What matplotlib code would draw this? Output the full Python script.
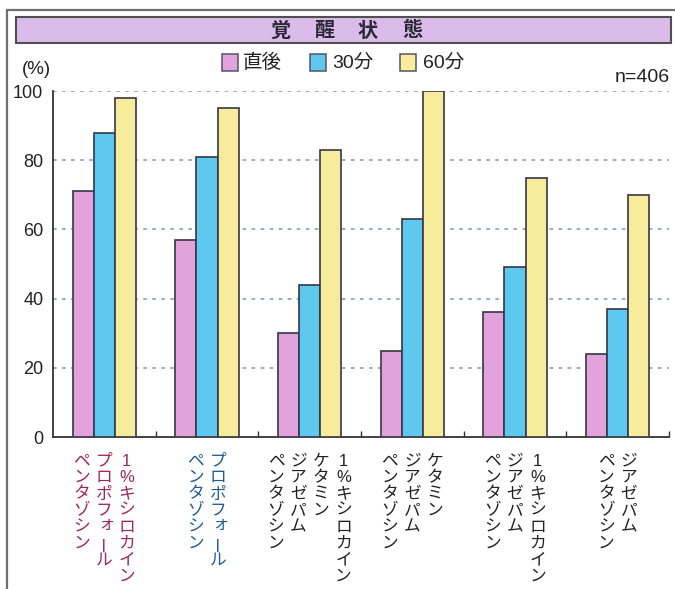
import numpy as np
import matplotlib
matplotlib.use("Agg")
import matplotlib.pyplot as plt
from matplotlib.patches import Rectangle

plt.rcParams['font.family'] = ['Liberation Sans', 'Noto Sans CJK JP']

# awakening rate (%) per anesthetic combination
series_names = ['直後', '30分', '60分']
immediate = [71, 57, 30, 25, 36, 24]
after_30 = [88, 81, 44, 63, 49, 37]
after_60 = [98, 95, 83, 100, 75, 70]
y_ticks = [0, 20, 40, 60, 80, 100]

# each group's label columns, listed right to left (vertical writing)
group_labels = [
    ['1%キシロカイン', 'プロポフォール', 'ペンタゾシン'],
    ['プロポフォール', 'ペンタゾシン'],
    ['1%キシロカイン', 'ケタミン', 'ジアゼパム', 'ペンタゾシン'],
    ['ケタミン', 'ジアゼパム', 'ペンタゾシン'],
    ['1%キシロカイン', 'ジアゼパム', 'ペンタゾシン'],
    ['ジアゼパム', 'ペンタゾシン'],
]
label_colors = ['#a3245e', '#1e5d97', '#222222', '#222222', '#222222', '#222222']
n_label = 'n=406'
title_chars = ['覚', '醒', '状', '態']

bar_colors = ['#e2a3dc', '#5ec8ef', '#f6ec9c']
edge = '#363646'

W, H = 675, 589
fig = plt.figure(figsize=(W / 100, H / 100), dpi=100)


def fx(x):
    return x / W


def fy(y):
    return 1 - y / H


# outer frame and title bar
fig.add_artist(Rectangle((fx(7), fy(592)), fx(672), 582 / H, transform=fig.transFigure,
                         facecolor='none', edgecolor='#707070', lw=1.6))
fig.add_artist(Rectangle((fx(16), fy(43)), fx(655), 26 / H, transform=fig.transFigure,
                         facecolor='#dbbbea', edgecolor='#505050', lw=1.5))
for i, ch in enumerate(title_chars):
    fig.text(fx(346 + (i - 1.5) * 44), fy(30), ch, ha='center', va='center',
             fontsize=14.5, fontweight='bold', color='#2a2a35', family='Noto Sans CJK JP')

ax = fig.add_axes([fx(53), fy(437), fx(616), 346 / H])
x = np.arange(len(immediate)) + 0.5
bw = 0.205
for k, vals in enumerate([immediate, after_30, after_60]):
    ax.bar(x + (k - 1) * bw, vals, bw, color=bar_colors[k], edgecolor=edge, lw=1.2, zorder=3)

ax.set_xlim(0, len(immediate))
ax.set_ylim(0, 100)
ax.set_yticks(y_ticks)
ax.set_yticklabels([str(v) for v in y_ticks], fontsize=13, color='#222222')
ax.tick_params(axis='y', length=0, pad=7)
ax.set_xticks([])
ax.set_xticks(np.arange(1, len(immediate) + 1), minor=True)
ax.tick_params(axis='x', which='minor', direction='in', length=4, width=1, color='#333333')
for v in y_ticks[1:]:
    ax.axhline(v, color='#8fa6c4', lw=1.3, ls=(0, (2, 3)), zorder=1)
for s in ['top', 'right']:
    ax.spines[s].set_visible(False)
for s in ['left', 'bottom']:
    ax.spines[s].set_color('#333333')
    ax.spines[s].set_linewidth(1.3)

# vertical (tategaki) category labels under each group
col_step = 22.5
char_step = 16.5
small_kana = 'ォァィゥェャュョッ'
for xc, cols, color in zip(x, group_labels, label_colors):
    n = len(cols)
    for k, col in enumerate(cols):
        dx = ((n - 1) / 2 - k) * col_step
        for i, ch in enumerate(col):
            ox, oy, rot = dx, -24 - i * char_step, 0
            if ch == 'ー':
                rot = 90
            if ch in small_kana:
                ox += 2.5
                oy += 2.5
            ax.annotate(ch, xy=(xc, 0), xycoords=('data', 'axes fraction'),
                        xytext=(ox, oy), textcoords='offset pixels',
                        ha='center', va='center', rotation=rot, rotation_mode='anchor',
                        fontsize=12, color=color, annotation_clip=False)

# legend row
leg_x = [222, 310, 400]
text_x = [243, 332, 423]
for lx, tx, c, name in zip(leg_x, text_x, bar_colors, series_names):
    fig.add_artist(Rectangle((fx(lx), fy(71)), fx(16), 17 / H, transform=fig.transFigure,
                             facecolor=c, edgecolor='#555566', lw=1.1))
    fig.text(fx(tx), fy(63), name, ha='left', va='center', fontsize=14, color='#222222')

fig.text(fx(22), fy(70), '(%)', ha='left', va='center', fontsize=13.5, color='#222222')
fig.text(fx(670), fy(77), n_label, ha='right', va='center', fontsize=14, color='#222222')

fig.savefig('out.png', dpi=100)
